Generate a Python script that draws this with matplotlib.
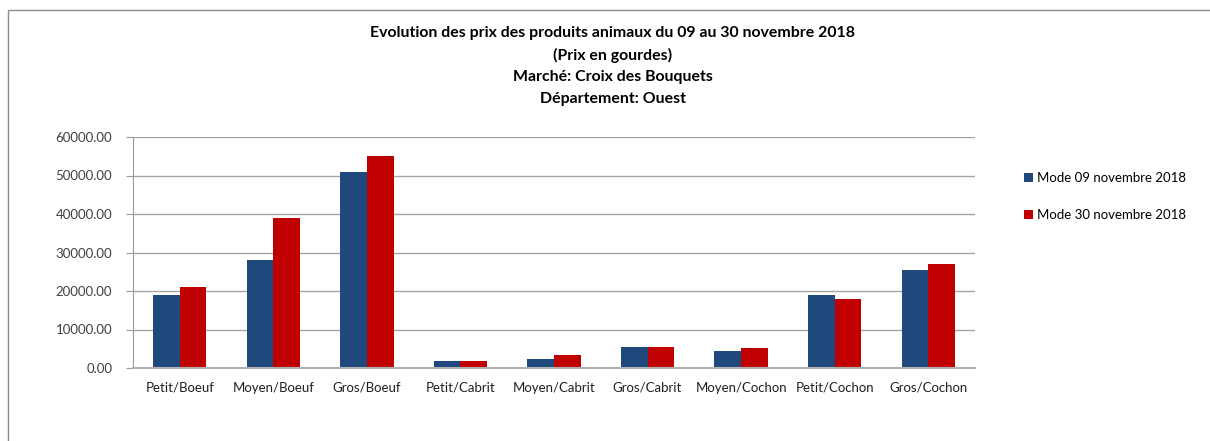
import matplotlib.pyplot as plt
import numpy as np
from matplotlib.patches import Rectangle

categories = ['Petit/Boeuf', 'Moyen/Boeuf', 'Gros/Boeuf', 'Petit/Cabrit', 'Moyen/Cabrit',
              'Gros/Cabrit', 'Moyen/Cochon', 'Petit/Cochon', 'Gros/Cochon']
mode_09 = [19000, 28000, 51000, 1750, 2400, 5500, 4500, 19000, 25500]
mode_30 = [21000, 39000, 55000, 1750, 3400, 5500, 5200, 18000, 27000]
series_names = ['Mode 09 novembre 2018', 'Mode 30 novembre 2018']
title_lines = ['Evolution des prix des produits animaux du 09 au 30 novembre 2018',
               '(Prix en gourdes)',
               'Marché: Croix des Bouquets',
               'Département: Ouest']

plt.rcParams['font.family'] = ['Lato', 'DejaVu Sans']

fig = plt.figure(figsize=(12.1, 4.41), dpi=100)
# outer chart frame (only top and left edges are visible in the crop)
fig.patches.append(Rectangle((8 / 1210, -0.05), 1.2, 1.05 - 10 / 441,
                             transform=fig.transFigure, fill=False,
                             edgecolor='#8c8c8c', linewidth=1))

ax = fig.add_axes([133 / 1210, 73 / 441, 842 / 1210, 231 / 441])

x = np.arange(len(categories))
w = 0.285
ax.bar(x - w / 2, mode_09, w, color='#1f497d', label=series_names[0])
ax.bar(x + w / 2, mode_30, w, color='#c00000', label=series_names[1])

ax.set_xlim(-0.5, len(categories) - 0.5)
ax.set_ylim(0, 60000)
ax.set_yticks(np.arange(0, 60001, 10000))
ax.set_yticklabels(['%.2f' % v for v in np.arange(0, 60001, 10000)], fontsize=9.5, color='#404040')
ax.set_xticks(x)
ax.set_xticklabels(categories, fontsize=9.5, color='#202020')
ax.tick_params(axis='x', length=0, pad=10)
ax.tick_params(axis='y', length=5, color='#999999', pad=10)
ax.yaxis.grid(True, color='#a6a6a6', linewidth=1)
ax.set_axisbelow(True)
for s in ['top', 'right']:
    ax.spines[s].set_visible(False)
ax.spines['left'].set_color('#999999')
ax.spines['bottom'].set_color('#b0b0b0')
ax.spines['bottom'].set_linewidth(1.5)

for i, line in enumerate(title_lines):
    fig.text(613 / 1210, 1 - (33 + 22 * i) / 441, line, ha='center', va='center',
             fontsize=11.4, fontweight='bold', color='#000000')

ax.legend(loc='upper left', bbox_to_anchor=(1012 / 1210, 1 - 160 / 441),
          bbox_transform=fig.transFigure, frameon=False, fontsize=9.5,
          handlelength=0.7, handleheight=0.7, handletextpad=0.3, labelspacing=1.9)

fig.savefig('out.png', dpi=100)
